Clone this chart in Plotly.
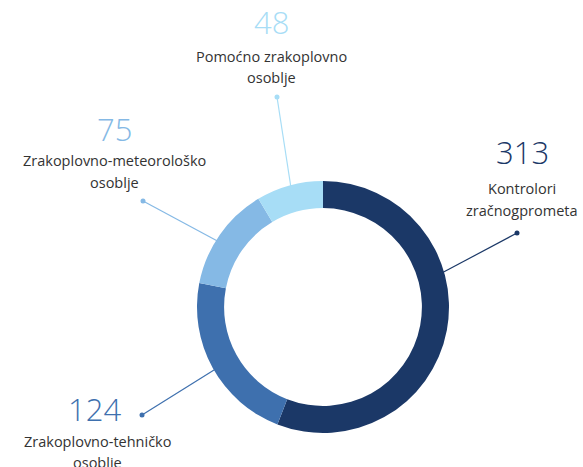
import math
import plotly.graph_objects as go

# ---- data ----
categories = ["Kontrolori zračnogprometa", "Zrakoplovno-tehničko osoblje",
              "Zrakoplovno-meteorološko osoblje", "Pomoćno zrakoplovno osoblje"]
values = [313, 124, 75, 48]
label_lines = [["Kontrolori", "zračnogprometa"],
               ["Zrakoplovno-tehničko", "osoblje"],
               ["Zrakoplovno-meteorološko", "osoblje"],
               ["Pomoćno zrakoplovno", "osoblje"]]
colors = ["#1b3867", "#3e70ae", "#85b9e5", "#a7ddf6"]

# ---- layout geometry (pixels) ----
W, H = 583, 467
cx, cy, R = 323, 307, 126
hole = 0.785
# leader: angle (deg clockwise from top) where line leaves ring, dot position
leaders = [(74, (517, 233)), (240, (142, 415)), (302, (143, 201)), (345, (277, 97))]
# text block anchors: (number center x, number y, label center x, label y1)
text_pos = [(522, 152, 522, 189), (94, 409, 97, 441), (114, 129, 114, 161), (271, 22, 271, 56)]

def px(x):
    return x / W

def py(y):
    return 1 - y / H

fig = go.Figure(go.Pie(
    labels=categories, values=values, hole=hole, sort=False, direction="clockwise",
    rotation=0, marker=dict(colors=colors, line=dict(width=0)),
    textinfo="none", hoverinfo="label+value", showlegend=False,
    domain=dict(x=[px(cx - R), px(cx + R)], y=[py(cy + R), py(cy - R)]),
))

shapes = []
annotations = []
for i, v in enumerate(values):
    ang, (dx, dy) = leaders[i]
    a = math.radians(ang)
    sx = cx + (R - 2) * math.sin(a)
    sy = cy - (R - 2) * math.cos(a)
    shapes.append(dict(type="line", xref="paper", yref="paper",
                       x0=px(sx), y0=py(sy), x1=px(dx), y1=py(dy),
                       line=dict(color=colors[i], width=1.2)))
    shapes.append(dict(type="circle", xref="paper", yref="paper",
                       x0=px(dx - 2.5), y0=py(dy + 2.5), x1=px(dx + 2.5), y1=py(dy - 2.5),
                       fillcolor=colors[i], line=dict(width=0)))
    nx, ny, lx, ly = text_pos[i]
    annotations.append(dict(xref="paper", yref="paper", x=px(nx), y=py(ny),
                            text=str(v), showarrow=False, xanchor="center", yanchor="middle",
                            font=dict(family="Open Sans", size=31, color=colors[i], weight=300)))
    for j, line in enumerate(label_lines[i]):
        annotations.append(dict(xref="paper", yref="paper", x=px(lx), y=py(ly + j * 21),
                                text=line, showarrow=False, xanchor="center", yanchor="middle",
                                font=dict(family="Open Sans", size=14.5, color="#333333")))

fig.update_layout(width=W, height=H, margin=dict(l=0, r=0, t=0, b=0),
                  paper_bgcolor="white", plot_bgcolor="white",
                  shapes=shapes, annotations=annotations)
fig.write_html("out.html", config={"displayModeBar": False},
               post_script="document.body.style.margin='0';document.body.style.overflow='hidden';")
